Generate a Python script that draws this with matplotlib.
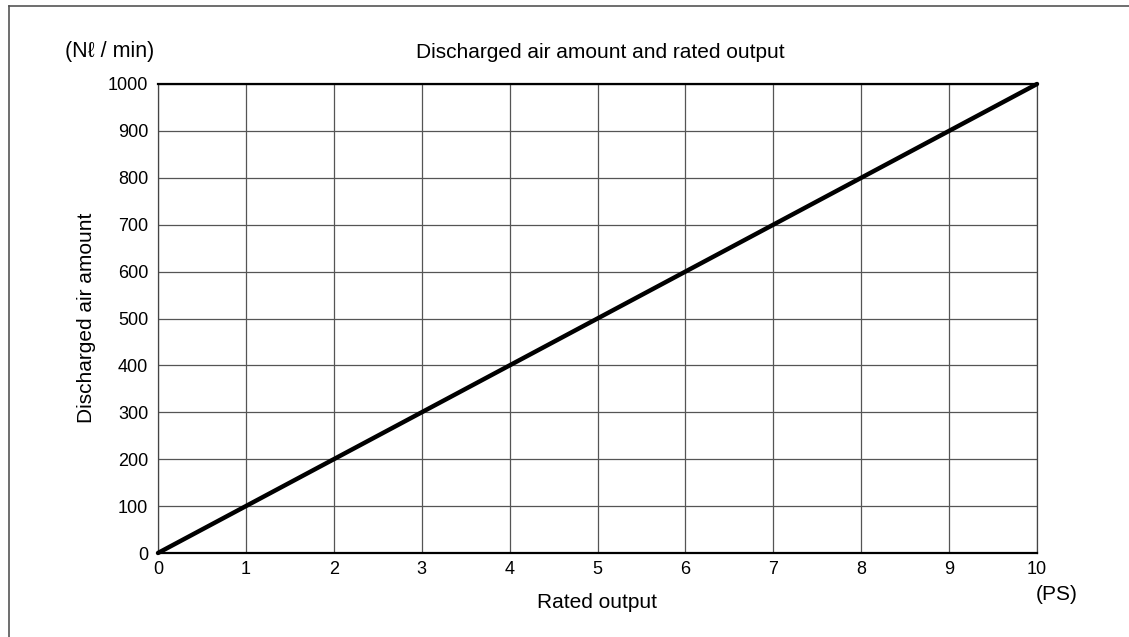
import matplotlib
matplotlib.use("Agg")
import matplotlib.pyplot as plt
from matplotlib.lines import Line2D

rated_output = [0, 10]
air_amount = [0, 1000]
x_ticks = list(range(0, 11))
y_ticks = list(range(0, 1001, 100))

plt.rcParams['font.family'] = ['Liberation Sans', 'DejaVu Sans']

W, H = 1129, 637
fig = plt.figure(figsize=(W / 100, H / 100), dpi=100)
ax = fig.add_axes([158 / W, 1 - 553 / H, (1037 - 158) / W, (553 - 84) / H])

ax.plot(rated_output, air_amount, color='black', lw=3.2, solid_capstyle='round', zorder=5, clip_on=False)
ax.set_xlim(0, 10)
ax.set_ylim(0, 1000)
ax.set_xticks(x_ticks)
ax.set_yticks(y_ticks)
ax.tick_params(axis='y', length=0, labelsize=13, pad=7)
ax.tick_params(axis='x', length=0, labelsize=13, pad=5.5)
ax.grid(True, color='#555555', lw=0.9)
for s in ['top', 'bottom']:
    ax.spines[s].set_linewidth(1.6)
    ax.spines[s].set_color('black')
for s in ['left', 'right']:
    ax.spines[s].set_linewidth(0.9)
    ax.spines[s].set_color('#444444')

fig.text(87 / W, 1 - 318 / H, 'Discharged air amount', rotation=90, ha='center', va='center', fontsize=15)
fig.text(597 / W, 1 - 603 / H, 'Rated output', ha='center', va='center', fontsize=15)
fig.text(600 / W, 1 - 52 / H, 'Discharged air amount and rated output', ha='center', va='center', fontsize=15)
fig.text(110 / W, 1 - 52 / H, '(N\u2113 / min)', ha='center', va='center', fontsize=15.5)
fig.text(1057 / W, 1 - 595 / H, '(PS)', ha='center', va='center', fontsize=15)

# partial outer frame (left and top edges)
fig.add_artist(Line2D([9 / W, 9 / W], [0, 1 - 6 / H], transform=fig.transFigure, color='#555555', lw=1.2))
fig.add_artist(Line2D([9 / W, 1], [1 - 6 / H, 1 - 6 / H], transform=fig.transFigure, color='#555555', lw=1.2))

fig.savefig('out.png', dpi=100)
